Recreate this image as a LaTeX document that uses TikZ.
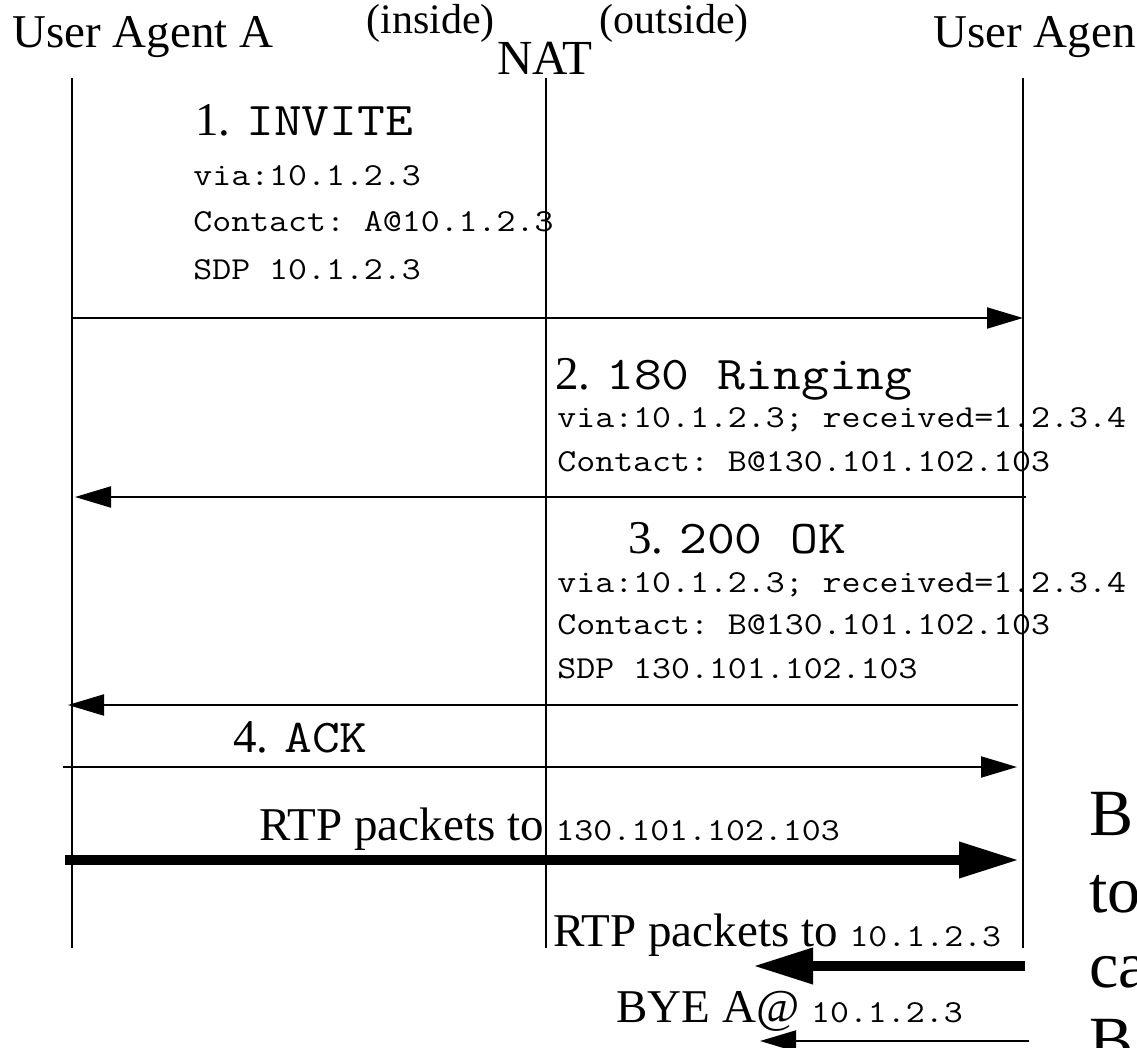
\documentclass[tikz,border=0pt]{standalone}
\usepackage{fontspec}
\setmainfont{Liberation Serif}
\setmonofont[FakeStretch=1.15]{Latin Modern Mono}
\usepackage{tikz}
\usetikzlibrary{arrows.meta}
\newcommand{\bigserif}{\fontsize{23.5}{28}\selectfont}
\newcommand{\parenfont}{\fontsize{21}{26}\selectfont}
\newcommand{\headmono}{\ttfamily\fontsize{23.5}{28}\selectfont}
\newcommand{\hdrmono}[1]{{\headmono #1}}
\newcommand{\smallmono}{\ttfamily\fontsize{16}{19}\selectfont}
\newcommand{\addr}[1]{{\smallmono #1}}
\tikzset{
    lifeline/.style={line width=1pt},
    msg/.style={-{Triangle[length=18pt,width=10.5pt]}, line width=1pt},
    rtp/.style={-{Triangle[length=30pt,width=17pt]}, line width=5pt},
    title/.style={anchor=base west, inner sep=0pt, font=\bigserif},
    paren/.style={anchor=base west, inner sep=0pt, font=\parenfont},
    head/.style={anchor=base west, inner sep=0pt, font=\bigserif},
    field/.style={anchor=base west, inner sep=0pt, font=\smallmono},
    side/.style={anchor=base west, inner sep=0pt, font=\fontsize{33}{40}\selectfont}
}

\begin{document}
\begin{tikzpicture}[x=0.5pt, y=-0.5pt]
    \useasboundingbox (0,0) rectangle (1137,1048);
    \clip (0,0) rectangle (1137,1048);

    % parties
    \node[title] (uaA) at (12,48) {User Agent A};
    \node[paren] (inside) at (366,34) {(inside)};
    \node[title, font=\fontsize{24.5}{29}\selectfont] (nat) at (497,75) {NAT};
    \node[paren] (outside) at (599,34) {(outside)};
    \node[title] (uaB) at (933,48) {User Agen};

    % lifelines
    \coordinate (Atop) at (72,78);   \coordinate (Abot) at (72,948);
    \coordinate (Ntop) at (546,78);  \coordinate (Nbot) at (546,948);
    \coordinate (Btop) at (1023,78); \coordinate (Bbot) at (1023,948);
    \draw[lifeline] (Atop) -- (Abot);
    \draw[lifeline] (Ntop) -- (Nbot);
    \draw[lifeline] (Btop) -- (Bbot);

    % 1. INVITE
    \node[head] (inv) at (195,136) {1. \hdrmono{INVITE}};
    \node[field] (invVia) at (193,186) {via:10.1.2.3};
    \node[field] (invCon) at (193,232) {Contact: A@10.1.2.3};
    \node[field] (invSdp) at (193,280) {SDP 10.1.2.3};
    \coordinate (inv1) at (72,318); \coordinate (inv2) at (1023,318);
    \draw[msg] (inv1) -- (inv2);

    % 2. 180 Ringing
    \node[head] (ring) at (555,390) {2. \hdrmono{180 Ringing}};
    \node[field] (ringVia) at (557,428) {via:10.1.2.3; received=1.2.3.4};
    \node[field] (ringCon) at (557,472) {Contact: B@130.101.102.103};
    \coordinate (ring1) at (1026,497); \coordinate (ring2) at (75,497);
    \draw[msg] (ring1) -- (ring2);

    % 3. 200 OK
    \node[head] (ok) at (628,553) {3. \hdrmono{200 OK}};
    \node[field] (okVia) at (557,593) {via:10.1.2.3; received=1.2.3.4};
    \node[field] (okCon) at (557,635) {Contact: B@130.101.102.103};
    \node[field] (okSdp) at (557,678) {SDP 130.101.102.103};
    \coordinate (ok1) at (1018,705); \coordinate (ok2) at (68,705);
    \draw[msg] (ok1) -- (ok2);

    % 4. ACK
    \node[head] (ack) at (233,752) {4. \hdrmono{ACK}};
    \coordinate (ack1) at (63,767); \coordinate (ack2) at (1017,767);
    \draw[msg] (ack1) -- (ack2);

    % media and teardown
    \node[head] (rtpAB) at (259,840) {RTP packets to \addr{130.101.102.103}};
    \coordinate (rtp1) at (65,860); \coordinate (rtp2) at (1019,860);
    \draw[rtp] (rtp1) -- (rtp2);

    \node[head] (rtpBA) at (553,946) {RTP packets to \addr{10.1.2.3}};
    \coordinate (rtp3) at (1025,966); \coordinate (rtp4) at (753,966);
    \draw[rtp] (rtp3) -- (rtp4);

    \node[head] (bye) at (616,1022) {BYE A@ \addr{10.1.2.3}};
    \coordinate (bye1) at (1029,1041); \coordinate (bye2) at (760,1041);
    \draw[msg] (bye1) -- (bye2);

    % note at the right edge
    \node[side] (n1) at (1089,835) {B};
    \node[side] (n2) at (1089,912) {to};
    \node[side] (n3) at (1089,987) {ca};
    \node[side] (n4) at (1089,1062) {B};
\end{tikzpicture}
\end{document}
